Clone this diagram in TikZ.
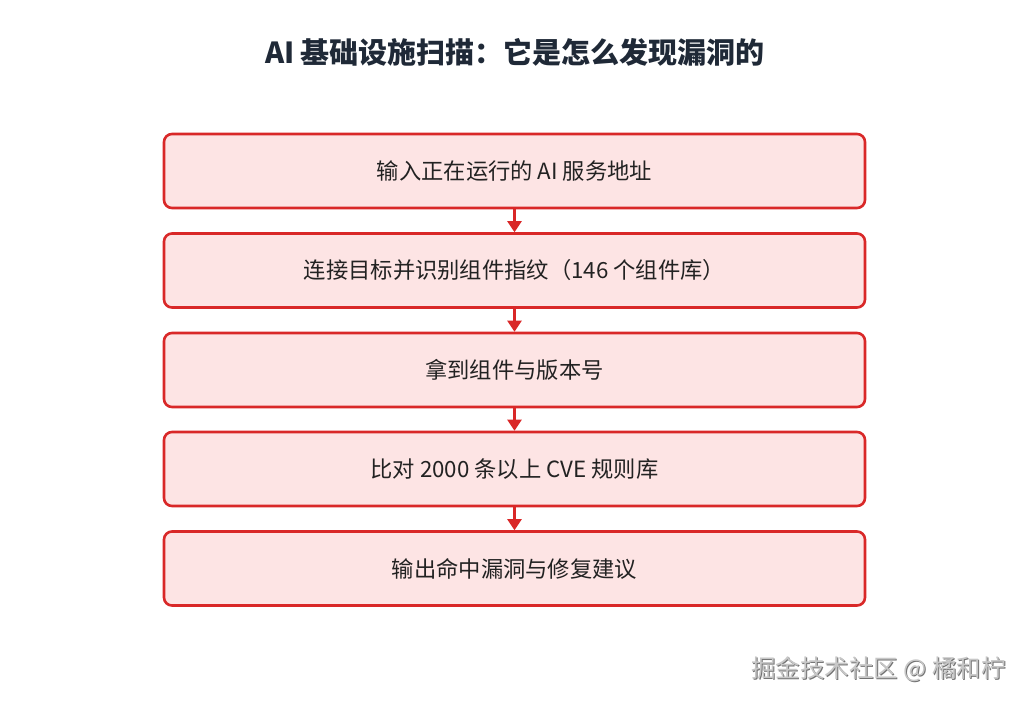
\documentclass[tikz,border=0pt]{standalone}
\usepackage{fontspec}
\setmainfont{Noto Sans CJK SC}
\usetikzlibrary{arrows.meta}
\definecolor{boxred}{HTML}{D92828}
\definecolor{boxfill}{HTML}{FDE4E4}
\definecolor{titlecol}{HTML}{1F2937}
\definecolor{txtcol}{HTML}{222222}
\tikzset{
  x=1pt,y=-1pt,
  stepbox/.style={draw=boxred,fill=boxfill,line width=2.6pt,rounded corners=8pt,
    minimum width=701pt,minimum height=74pt,inner sep=0pt,
    font=\fontsize{22.3}{26}\selectfont,text=txtcol},
  flow/.style={draw=boxred,line width=2.4pt,-{Triangle[width=14pt,length=11pt]}},
  wmtext/.style={font=\fontsize{24.5}{28}\selectfont,inner sep=0pt},
}
\begin{document}
\begin{tikzpicture}
\useasboundingbox (0,0) rectangle (1029,705);
\fill[white] (0,0) rectangle (1029,705);
\node[font=\fontsize{29}{33}\selectfont\bfseries,text=titlecol] (title) at (515,52) {AI 基础设施扫描：它是怎么发现漏洞的};
\node[stepbox] (s1) at (514.5,171) {输入正在运行的 AI 服务地址};
\node[stepbox] (s2) at (514.5,270.5) {连接目标并识别组件指纹（146 个组件库）};
\node[stepbox] (s3) at (514.5,370) {拿到组件与版本号};
\node[stepbox] (s4) at (514.5,469) {比对 2000 条以上 CVE 规则库};
\node[stepbox] (s5) at (514.5,568.5) {输出命中漏洞与修复建议};
\draw[flow] (s1.south) -- (s2.north);
\draw[flow] (s2.south) -- (s3.north);
\draw[flow] (s3.south) -- (s4.north);
\draw[flow] (s4.south) -- (s5.north);
\node[wmtext,text=black!55] (wmshadow) at (879.5,670.5) {掘金技术社区 @ 橘和柠};
\node[wmtext,text=black!22] (wm) at (878.5,669.5) {掘金技术社区 @ 橘和柠};
\end{tikzpicture}
\end{document}
